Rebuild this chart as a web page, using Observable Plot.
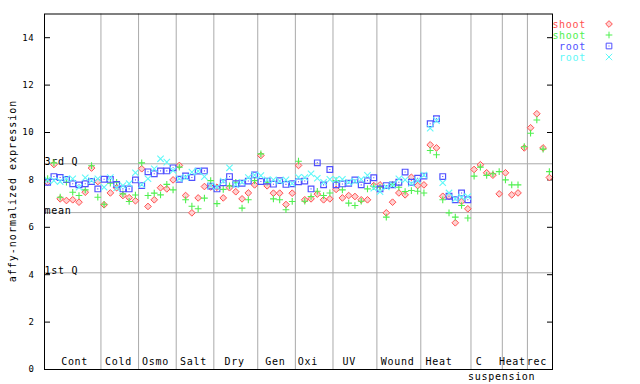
<!DOCTYPE html>
<html><head><meta charset="utf-8">
<script src="https://cdn.jsdelivr.net/npm/d3@7"></script>
<script src="https://cdn.jsdelivr.net/npm/@observablehq/plot@0.6"></script>
<style>body{margin:0;background:#fff} svg{display:block}</style>
</head><body><div id="chart"></div>
<script>
// ---- data ----
const groups = ["Cont","Cold","Osmo","Salt","Dry","Gen","Oxi","UV","Wound","Heat","C","Heat","rec"];
const groupSizes = [9,6,6,6,7,6,6,7,7,8,5,4,4];
const groupLabelAt = [4.3,11.3,17.2,23.25,29.8,36.3,41.5,48.1,55.8,62.4,68.8,74.1,78.0];
const subLabel = "suspension";
const subLabelAt = 72.4;

const shootRed = [7.9,8.65,7.2,7.13,7.16,7.06,7.48,8.5,7.93,
  6.95,7.45,7.67,7.34,7.25,7.12,
  8.47,6.88,7.16,7.67,7.62,8.0,
  8.61,7.34,6.61,7.24,7.72,7.7,
  7.69,7.24,7.67,7.5,7.2,7.45,7.79,
  9.03,7.75,7.44,7.44,6.96,7.44,
  8.61,7.16,7.2,7.4,7.16,7.2,
  7.6,7.24,7.34,7.3,7.16,7.16,7.76,
  7.79,6.61,7.06,7.45,7.37,8.11,7.76,
  7.79,9.48,9.35,7.31,7.3,6.19,7.09,6.78,
  8.44,8.64,8.3,8.2,7.41,
  8.3,7.37,7.45,9.35,
  10.2,10.79,9.35,8.1];
const shootGreen = [8.05,8.72,7.27,7.9,7.48,7.34,7.58,8.6,7.27,
  6.97,7.86,7.9,7.41,7.09,7.36,
  8.72,7.34,7.44,7.37,7.81,7.58,
  8.54,7.16,6.89,6.78,7.23,7.97,
  7.0,7.6,7.75,7.9,6.81,7.16,7.97,
  9.1,7.9,7.2,7.16,6.74,7.09,
  8.79,7.1,7.3,7.52,7.34,7.45,
  7.97,7.58,7.02,6.92,7.1,7.62,7.72,
  7.69,6.43,7.8,7.69,7.51,7.55,7.52,
  7.45,9.24,9.06,7.16,6.61,6.43,6.92,6.39,
  8.16,8.54,8.19,8.26,8.35,
  8.0,7.79,7.79,9.4,
  9.97,10.53,9.3,8.35];
const rootBlue = [7.9,8.14,8.1,8.02,7.84,7.79,7.84,7.93,7.62,
  8.03,8.02,7.81,7.62,7.62,8.0,
  7.76,8.34,8.26,8.38,8.38,8.51,
  8.03,8.17,8.1,8.37,8.38,7.74,
  7.62,7.88,8.14,7.84,7.86,7.95,8.21,
  7.93,7.95,7.82,7.97,7.81,7.84,
  7.92,7.95,7.62,8.72,7.79,8.44,
  7.79,7.83,7.86,8.0,7.79,7.97,8.09,
  7.62,7.76,7.79,7.9,8.33,7.9,8.07,
  8.16,10.37,10.58,8.14,7.31,7.16,7.45,7.16,
  null,null,null,null,null,
  null,null,null,null,
  null,null,null,null];
const rootCyan = [8.0,7.97,7.93,8.05,8.05,7.69,8.09,7.97,8.05,
  7.69,8.1,7.66,7.76,7.84,8.3,
  7.8,8.05,8.47,8.89,8.75,8.4,
  8.05,8.11,8.33,8.37,8.14,7.76,
  7.7,7.95,8.51,7.8,7.9,8.1,8.2,
  8.18,8.0,8.0,7.95,8.0,7.85,
  8.11,8.1,8.26,8.07,7.9,8.02,
  8.02,8.02,7.9,7.95,8.02,8.19,7.65,
  7.5,7.7,7.79,8.05,8.0,7.85,7.97,
  8.2,10.18,10.5,7.88,7.45,7.2,7.27,7.3,
  null,null,null,null,null,
  null,null,null,null,
  null,null,null,null];

const refLines = [8.68, 6.62, 4.08];
const refLabels = ["3rd Q", "mean", "1st Q"];
const yTicks = [0,2,4,6,8,10,12,14];
const legendNames = ["shoot","shoot","root","root"];
const colors = ["#ff5050","#50f050","#5050ff","#60f8f8"];
const yLabel = "affy-normalized expression";

// ---- derived ----
const N = shootRed.length;
const idx = d3.range(N);
const seps = [];
{ let acc = 0; for (let k = 0; k < groupSizes.length - 1; k++) { acc += groupSizes[k]; seps.push(acc - 0.5); } }

const font = "DejaVu Sans Mono";
const chart = Plot.plot({
  width: 640, height: 384,
  marginLeft: 44, marginRight: 88, marginTop: 13.5, marginBottom: 15,
  style: {fontFamily: font, fontSize: "10px", letterSpacing: "0.7px", background: "white"},
  x: {domain: [-0.5, N - 0.5], axis: null},
  y: {domain: [0, 15], axis: null},
  marks: [
    Plot.ruleX(seps, {stroke: "#aaaaaa", strokeWidth: 1}),
    Plot.ruleY(refLines, {stroke: "#aaaaaa", strokeWidth: 1}),
    Plot.text(refLines, {y: d => d, text: (d, i) => refLabels[i], frameAnchor: "left", textAnchor: "start", lineAnchor: "bottom", dy: 1, fill: "black"}),
    Plot.axisY(yTicks, {anchor: "left", tickSize: -6, tickFormat: () => "", label: null, stroke: "black"}),
    Plot.axisY(yTicks, {anchor: "right", tickSize: -6, tickFormat: () => "", label: null, stroke: "black"}),
    Plot.axisY(yTicks, {anchor: "left", tickSize: 0, tickPadding: 10, fontSize: 9, letterSpacing: 0, label: null}),
    Plot.text(groups, {x: (d, i) => groupLabelAt[i], text: d => d, frameAnchor: "bottom", dy: -5, fill: "black"}),
    Plot.text([subLabel], {x: subLabelAt, text: d => d, frameAnchor: "bottom", dy: 10, fill: "black"}),
    Plot.dot(idx, {x: i => i, y: i => shootRed[i], symbol: "diamond2", r: 3.0, stroke: colors[0], strokeWidth: 1, fill: "#ffd0d0"}),
    Plot.dot(idx, {x: i => i, y: i => shootGreen[i], symbol: "plus", r: 2.3, stroke: colors[1], strokeWidth: 1.1}),
    Plot.dot(idx, {x: i => i, y: i => rootBlue[i], symbol: "square", r: 3.2, stroke: colors[2], strokeWidth: 1.2, fill: "none"}),
    Plot.dot(idx, {x: i => i, y: i => rootBlue[i], symbol: "square", r: 0.6, fill: colors[2]}),
    Plot.dot(idx, {x: i => i, y: i => rootCyan[i], symbol: "times", r: 3.0, stroke: colors[3], strokeWidth: 1.1}),
    Plot.frame({stroke: "black"})
  ]
});
document.getElementById("chart").appendChild(chart);

// y label and legend
const svg = d3.select(chart);
svg.append("text")
  .attr("transform", "translate(12,191) rotate(-90)")
  .attr("text-anchor", "middle").attr("dominant-baseline", "central")
  .attr("font-family", font).attr("font-size", 10).attr("letter-spacing", "1px")
  .attr("fill", "black").text(yLabel);

const legSymbols = [d3.symbolDiamond2, d3.symbolPlus, d3.symbolSquare, d3.symbolTimes];
const legSizes = [Math.PI*3*3, Math.PI*2.3*2.3, Math.PI*3.2*3.2, Math.PI*3*3];
const leg = svg.append("g");
legendNames.forEach((name, k) => {
  const y = 24 + k * 11;
  leg.append("text").attr("x", 586).attr("y", y).attr("text-anchor", "end")
    .attr("dominant-baseline", "central").attr("font-family", font).attr("font-size", 10)
    .attr("letter-spacing", "0.7px").attr("fill", colors[k]).text(name);
  leg.append("path").attr("transform", `translate(609,${y})`)
    .attr("d", d3.symbol(legSymbols[k], legSizes[k])())
    .attr("fill", k === 0 ? "#ffd0d0" : "none").attr("stroke", colors[k]).attr("stroke-width", 1);
  if (k === 2) leg.append("rect").attr("x", 608.5).attr("y", y - 0.5).attr("width", 1).attr("height", 1).attr("fill", colors[k]);
});
</script></body></html>
